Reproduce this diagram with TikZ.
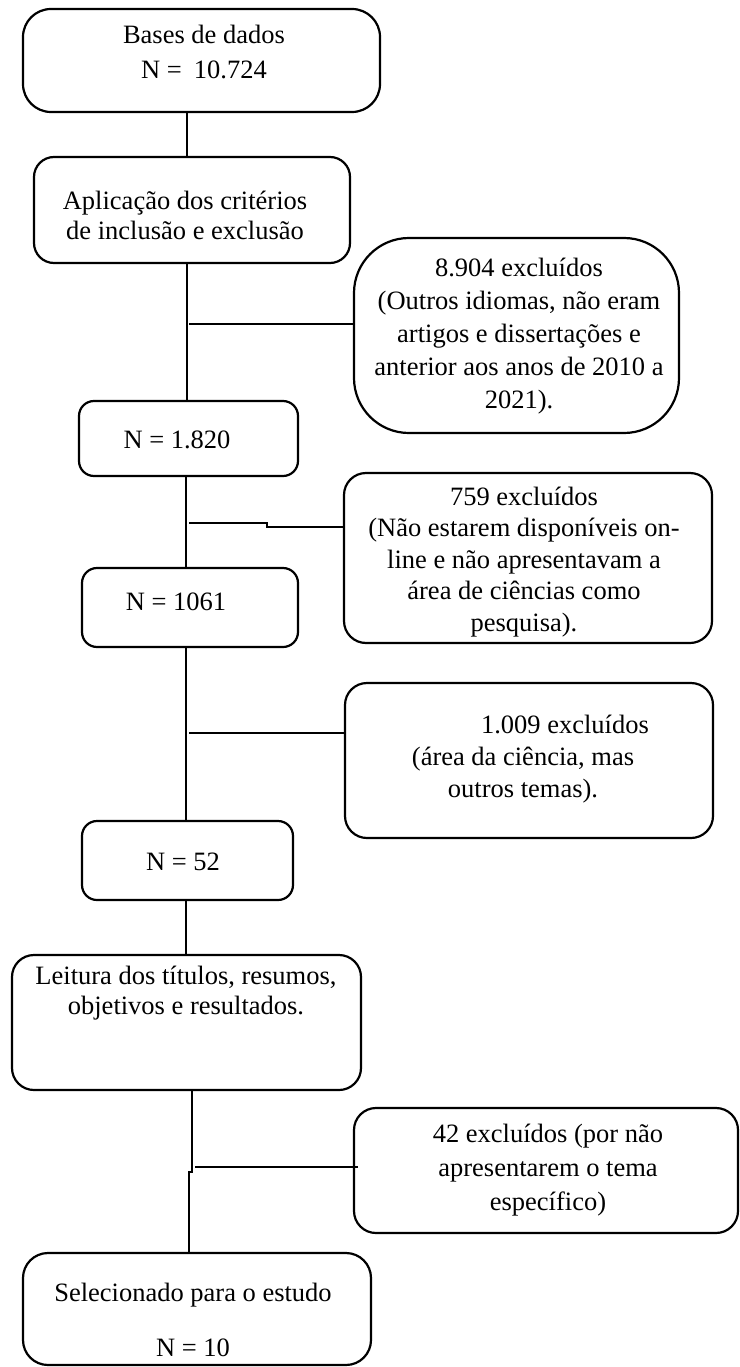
\documentclass[tikz,border=0pt]{standalone}
\usepackage{fontspec}
\setmainfont{Liberation Serif}
\tikzset{
  box/.style={draw, line width=2.2pt, inner sep=0pt, outer sep=0pt, rectangle},
  txt/.style={align=center, inner sep=0pt, outer sep=0pt},
  link/.style={line width=1.6pt}
}
\newcommand{\fs}[1]{\fontsize{26.5}{#1}\selectfont}
\begin{document}
\begin{tikzpicture}[x=1pt,y=-1pt]
\useasboundingbox (0,0) rectangle (739,1367);
% boxes
\node[box, minimum width=357pt, minimum height=103pt, rounded corners=28pt] (b1) at (201.5,60.5) {};
\node[box, minimum width=316pt, minimum height=106pt, rounded corners=20pt] (b2) at (192,210) {};
\node[box, minimum width=325pt, minimum height=195pt, rounded corners=55pt] (b3) at (516.5,335.5) {};
\node[box, minimum width=219pt, minimum height=75pt, rounded corners=15pt] (b4) at (188.5,438.5) {};
\node[box, minimum width=368pt, minimum height=170pt, rounded corners=22pt] (b5) at (528,558) {};
\node[box, minimum width=216pt, minimum height=79pt, rounded corners=15pt] (b6) at (190,607.5) {};
\node[box, minimum width=368pt, minimum height=155pt, rounded corners=22pt] (b7) at (529,760.5) {};
\node[box, minimum width=211pt, minimum height=79pt, rounded corners=15pt] (b8) at (187.5,860.5) {};
\node[box, minimum width=349pt, minimum height=135pt, rounded corners=22pt] (b9) at (186.5,1022.5) {};
\node[box, minimum width=384pt, minimum height=125pt, rounded corners=22pt] (b10) at (546,1170.5) {};
\node[box, minimum width=348pt, minimum height=112pt, rounded corners=25pt] (b11) at (197,1309) {};
% texts
\node[txt, font=\fs{35}] (t1) at (204,52) {Bases de dados\\N =\hspace{12pt}10.724};
\node[txt, font=\fs{30}] (t2) at (185,215) {Aplicação dos critérios\\de inclusão e exclusão};
\node[txt, font=\fs{33}] (t3) at (519,336) {8.904 excluídos\\(Outros idiomas, não eram\\artigos e dissertações e\\anterior aos anos de 2010 a\\2021).};
\node[txt, font=\fs{30}] (t4) at (177,440) {N = 1.820};
\node[txt, font=\fs{31.5}] (t5) at (524,562) {759 excluídos\\(Não estarem disponíveis on-\\line e não apresentavam a\\área de ciências como\\pesquisa).};
\node[txt, font=\fs{30}] (t6) at (176,602) {N = 1061};
\node[txt, font=\fs{32}] (t7) at (523,759) {\hspace*{84pt}1.009 excluídos\\(área da ciência, mas\\outros temas).};
\node[txt, font=\fs{30}] (t8) at (183,862) {N = 52};
\node[txt, font=\fs{30}] (t9) at (186,993) {Leitura dos títulos, resumos,\\objetivos e resultados.};
\node[txt, font=\fs{34}] (t10) at (548,1170) {42 excluídos (por não\\apresentarem o tema\\específico)};
\node[txt, font=\fs{55}] (t11) at (193,1319.5) {Selecionado para o estudo\\N = 10};
% connector guide coordinates
\coordinate (v1) at (187,0);
\coordinate (v2) at (186,0);
\coordinate (v3) at (192,0);
\coordinate (v4) at (189,0);
\coordinate (j1) at (189,324);
\coordinate (j2) at (189,523);
\coordinate (k2) at (267,523);
\coordinate (k3) at (267,527);
\coordinate (j3) at (189,733);
\coordinate (j4) at (195,1167);
\coordinate (e4) at (358,1167);
\coordinate (m1) at (192,1172);
\coordinate (m2) at (189,1172);
% connectors
\draw[link] (b1.south -| v1) -- (b2.north -| v1);
\draw[link] (b2.south -| v1) -- (b4.north -| v1);
\draw[link] (j1) -- (b3.west |- j1);
\draw[link] (b4.south -| v2) -- (b6.north -| v2);
\draw[link] (j2) -- (k2) -- (k3) -- (b5.west |- k3);
\draw[link] (b6.south -| v2) -- (b8.north -| v2);
\draw[link] (j3) -- (b7.west |- j3);
\draw[link] (b8.south -| v2) -- (b9.north -| v2);
\draw[link] (b9.south -| v3) -- (m1) -- (m2) -- (b11.north -| v4);
\draw[link] (j4) -- (e4);
\end{tikzpicture}
\end{document}
